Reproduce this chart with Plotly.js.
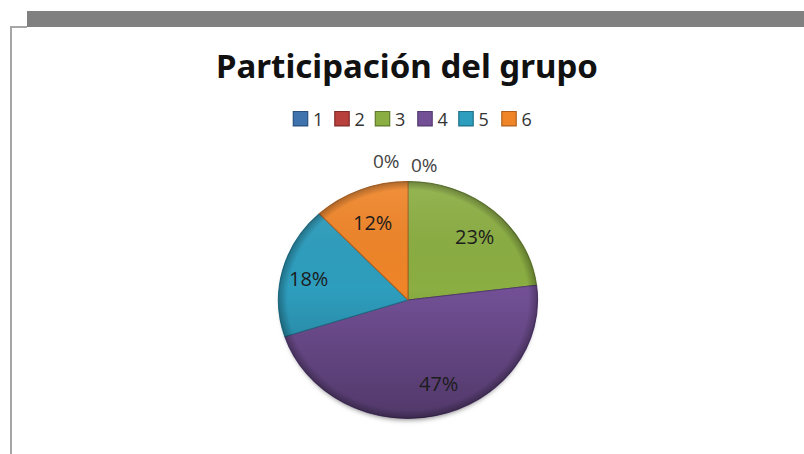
<!DOCTYPE html>
<html><head><meta charset="utf-8">
<script src="https://cdn.plot.ly/plotly-3.0.1.min.js"></script>
<style>html,body{margin:0;padding:0;background:#fff}</style></head>
<body><div id="c" style="width:804px;height:454px"></div>
<script>
const categories=['1','2','3','4','5','6'];
const values=[0,0,23,47,18,12];
const colors=['#3F73AE','#B8403C','#8BAE42','#735096','#2E9EBE','#F08528'];
const edgeColors=['#2a5080','#802c2a','#5f7a2c','#533a70','#1f7088','#b0601c'];
const chartTitle='Participación del grupo';
const W=804,H=454;
// label anchor pixels, in category order
const labelX=[386,425,475,438,308,372];
const labelY=[161,165,236,383,278,222];
const px=(x,y)=>({x:x/W,y:1-y/H});
const overlay='data:image/svg+xml;utf8,'+encodeURIComponent(`<svg xmlns="http://www.w3.org/2000/svg" width="276" height="258" viewBox="0 0 276 258"><defs><linearGradient id="v" x1="0" y1="0" x2="0" y2="1"><stop offset="0" stop-color="#fff" stop-opacity=".10"/><stop offset=".45" stop-color="#000" stop-opacity="0"/><stop offset="1" stop-color="#000" stop-opacity=".30"/></linearGradient><radialGradient id="r" cx=".5" cy=".5" r=".5"><stop offset=".93" stop-color="#000" stop-opacity="0"/><stop offset="1" stop-color="#000" stop-opacity=".28"/></radialGradient></defs><ellipse cx="138" cy="128" rx="129.5" ry="118.5" fill="url(#v)"/><ellipse cx="138" cy="128" rx="129.5" ry="118.5" fill="url(#r)"/></svg>`);
const shadow='data:image/svg+xml;utf8,'+encodeURIComponent(`<svg xmlns="http://www.w3.org/2000/svg" width="276" height="258" viewBox="0 0 276 258"><defs><filter id="b" x="-10%" y="-10%" width="120%" height="120%"><feGaussianBlur stdDeviation="2.5"/></filter></defs><ellipse cx="138" cy="131" rx="127" ry="117" fill="#888" filter="url(#b)"/></svg>`);
const img=(s,layer)=>({source:s,xref:'paper',yref:'paper',x:270/W,y:1-172/H,sizex:276/W,sizey:258/H,sizing:'stretch',xanchor:'left',yanchor:'top',layer:layer});
Plotly.newPlot('c',[{type:'pie',labels:categories,values:values,sort:false,direction:'clockwise',rotation:0,
 marker:{colors:colors,line:{width:1,color:edgeColors}},textinfo:'none',
 domain:{x:[284/W,532/W],y:[30/H,278/H]},hoverinfo:'label+percent'}],
{width:W,height:H,margin:{l:0,r:0,t:0,b:0},paper_bgcolor:'#fff',font:{family:'"Open Sans",sans-serif',color:'#333'},
 title:{text:'<b>'+chartTitle+'</b>',font:{family:'"Noto Sans",sans-serif',size:33,color:'#111'},x:407/W,xanchor:'center',y:1-66/H,yanchor:'middle'},
 legend:{orientation:'h',x:407/W,xanchor:'center',y:1-119/H,yanchor:'middle',font:{size:18,color:'#333'},traceorder:'normal',itemclick:false},
 images:[img(shadow,'below'),img(overlay,'above')],
 annotations:values.map((v,i)=>({text:v+'%',xref:'paper',yref:'paper',...px(labelX[i],labelY[i]),xanchor:'center',yanchor:'middle',showarrow:false,font:{size:i<2?19:20,color:i<2?'#444':'#1c1c1c'}})),
 shapes:[
  {type:'rect',xref:'paper',yref:'paper',x0:27/W,x1:1,y0:1-11/H,y1:1-27/H,fillcolor:'#808080',line:{width:0}},
  {type:'rect',xref:'paper',yref:'paper',x0:10/W,x1:12/W,y0:0,y1:1-26/H,fillcolor:'#a6a6a6',line:{width:0}},
  {type:'rect',xref:'paper',yref:'paper',x0:10/W,x1:27/W,y0:1-26/H,y1:1-28/H,fillcolor:'#a6a6a6',line:{width:0}}
 ]},{displayModeBar:false}).then(gd=>{
  const c=gd.calcdata[0][0];
  document.querySelectorAll('.slice path.surface').forEach(p=>{
    p.setAttribute('transform',`translate(${c.cx},${c.cy}) scale(1.045,0.955) translate(${-c.cx},${-c.cy})`);
  });
  // tighten the legend to the reference's compact spacing
  const swatchX=[300.5,342,382.5,425,466,509];
  document.querySelectorAll('.legend .traces').forEach((g,i)=>{
    const sw=g.querySelector('.legendpoints path');
    const tx=g.querySelector('text.legendtext');
    const r=sw.getBoundingClientRect();
    const m=/translate\(([-\d.]+)[ ,]*([-\d.]+)?\)/.exec(g.getAttribute('transform'));
    const dx=swatchX[i]-(r.left+r.right)/2;
    g.setAttribute('transform',`translate(${+m[1]+dx},${m[2]||0})`);
    const local=/translate\(([-\d.]+)/.exec(sw.getAttribute('transform')||'');
    tx.setAttribute('x',(local?+local[1]:20)+12.5);
    sw.setAttribute('transform',(sw.getAttribute('transform')||'')+' scale(1.2)');
  });
});
</script></body></html>
